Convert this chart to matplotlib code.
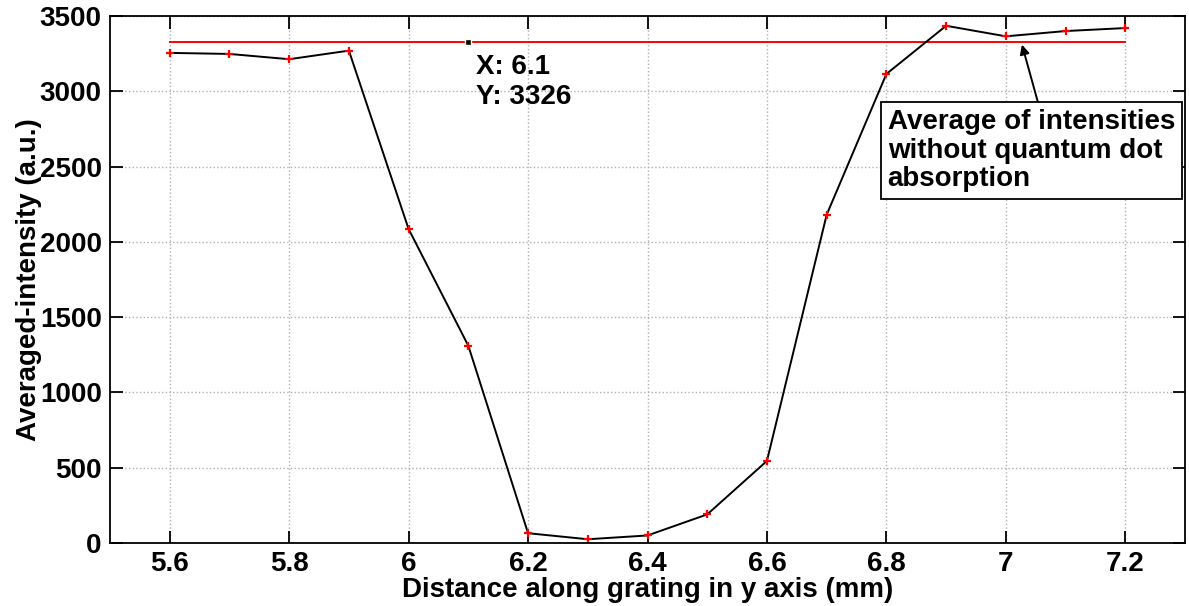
import matplotlib
matplotlib.use("Agg")
from matplotlib import pyplot as plt

plt.rcParams['font.family'] = ['Liberation Sans', 'DejaVu Sans']
plt.rcParams['font.weight'] = 'bold'

# 数据
distance = [5.6, 5.7, 5.8, 5.9, 6.0, 6.1, 6.2, 6.3, 6.4, 6.5, 6.6, 6.7, 6.8, 6.9, 7.0, 7.1, 7.2]
intensity = [3255, 3248, 3213, 3270, 2085, 1310, 65, 25, 50, 190, 545, 2180, 3115, 3435, 3365, 3400, 3420]
avg_value = 3326
avg_range = [5.6, 7.2]
tip_x = 6.1
x_ticks = [5.6, 5.8, 6.0, 6.2, 6.4, 6.6, 6.8, 7.0, 7.2]
x_tick_labels = ['5.6', '5.8', '6', '6.2', '6.4', '6.6', '6.8', '7', '7.2']
y_ticks = [0, 500, 1000, 1500, 2000, 2500, 3000, 3500]

fs = 20

fig = plt.figure(figsize=(11.89, 6.06), dpi=100)
ax = fig.add_axes([110 / 1189, 63 / 606, 1075 / 1189, 527 / 606])

ax.plot(avg_range, [avg_value, avg_value], color='red', linewidth=1.4)
ax.plot(distance, intensity, color='black', linewidth=1.4)
ax.plot(distance, intensity, linestyle='none', marker='+', color='red', markersize=6, markeredgewidth=1.6)

# 数据提示
ax.plot([tip_x], [avg_value], marker='s', color='black', markersize=5, markeredgecolor='#ffffcc')
ax.text(6.112, 3250, 'X: 6.1\nY: 3326', fontsize=fs, fontweight='bold',
        va='top', ha='left', linespacing=1.2)

ax.annotate('Average of intensities\nwithout quantum dot\nabsorption', xy=(7.027, 3310),
            xytext=(6.802, 2880), fontsize=fs, fontweight='bold', ha='left', va='top',
            linespacing=1.12,
            bbox=dict(boxstyle='square,pad=0.25', facecolor='white', edgecolor='black', linewidth=1.3),
            arrowprops=dict(arrowstyle='-|>', color='black', linewidth=1.4, mutation_scale=14,
                            shrinkA=0, shrinkB=0, relpos=(0.53, 1.0)),
            zorder=5)

ax.set_xlim(5.5, 7.3)
ax.set_ylim(0, 3500)
ax.set_xticks(x_ticks)
ax.set_xticklabels(x_tick_labels)
ax.set_yticks(y_ticks)
ax.tick_params(labelsize=fs, direction='in', length=9, width=1.3, top=True, right=True, pad=6)
ax.grid(True, linestyle=':', color='#b0b0b0', linewidth=1)
for s in ax.spines.values():
    s.set_linewidth(1.3)

ax.set_xlabel('Distance along grating in y axis (mm)', fontsize=fs, fontweight='bold', labelpad=0)
ax.set_ylabel('Averaged-intensity (a.u.)', fontsize=fs, fontweight='bold', labelpad=-2)

plt.savefig('out.png', dpi=100)
